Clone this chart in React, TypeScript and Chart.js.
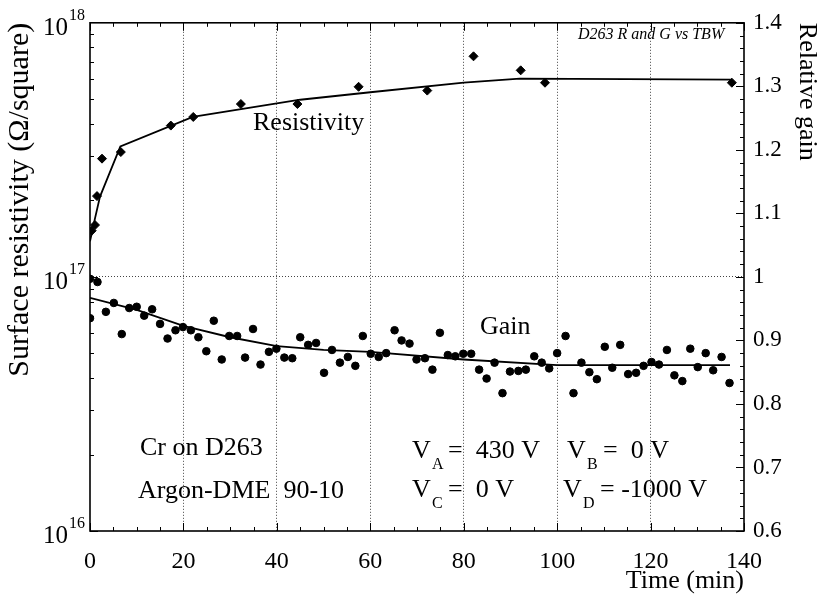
import React, { useEffect, useRef } from 'react';
import { Chart, registerables } from 'chart.js';

Chart.register(...registerables);

const SERIF = '"Liberation Serif", "Times New Roman", serif';

// Resistivity measurements (time in min, Ω/square)
const resTime = [0.36, 1.07, 1.5, 2.57, 6.6, 17.3, 22.1, 32.3, 44.4, 57.5, 72.2, 82.1, 92.2, 97.4, 137.4];
const resValues = [1.52e17, 1.6e17, 2.08e17, 2.92e17, 3.1e17, 3.94e17, 4.26e17, 4.79e17, 4.79e17, 5.6e17, 5.41e17, 7.38e17, 6.5e17, 5.81e17, 5.81e17];

// Resistivity fit curve
const resFitTime = [0, 1.07, 2.14, 6.5, 22, 45, 60, 80, 92, 137.4];
const resFitValues = [1.38e17, 1.7e17, 2.07e17, 3.26e17, 4.26e17, 4.98e17, 5.33e17, 5.81e17, 6.03e17, 5.97e17];

// Relative gain measurements
const gainTime = [0, 1.6, 0, 3.4, 5.1, 6.8, 8.4, 10.0, 11.6, 13.3, 15.0, 16.6, 18.3, 19.9, 21.6, 23.2, 24.9, 26.5, 28.2, 29.8, 31.5, 33.2, 34.9, 36.5, 38.3, 39.9, 41.6, 43.3, 45.0, 46.7, 48.4, 50.1, 51.8, 53.5, 55.2, 56.8, 58.4, 60.1, 61.8, 63.4, 65.2, 66.7, 68.4, 69.9, 71.7, 73.3, 74.9, 76.6, 78.2, 79.9, 81.6, 83.3, 84.9, 86.6, 88.3, 89.9, 91.7, 93.3, 95.1, 96.7, 98.3, 100.0, 101.8, 103.5, 105.2, 106.9, 108.5, 110.2, 111.8, 113.5, 115.2, 116.9, 118.5, 120.2, 121.8, 123.5, 125.1, 126.8, 128.5, 130.1, 131.8, 133.4, 135.2, 136.9];
const gainValues = [0.997, 0.992, 0.935, 0.945, 0.959, 0.910, 0.951, 0.953, 0.939, 0.949, 0.926, 0.903, 0.916, 0.921, 0.916, 0.905, 0.883, 0.931, 0.870, 0.907, 0.907, 0.873, 0.918, 0.862, 0.882, 0.887, 0.873, 0.872, 0.905, 0.893, 0.896, 0.849, 0.885, 0.865, 0.874, 0.860, 0.907, 0.879, 0.874, 0.880, 0.916, 0.900, 0.895, 0.870, 0.872, 0.854, 0.912, 0.877, 0.875, 0.879, 0.879, 0.854, 0.840, 0.865, 0.817, 0.851, 0.852, 0.854, 0.875, 0.865, 0.856, 0.880, 0.907, 0.817, 0.865, 0.850, 0.839, 0.890, 0.857, 0.893, 0.847, 0.849, 0.860, 0.866, 0.862, 0.885, 0.845, 0.836, 0.887, 0.858, 0.880, 0.853, 0.874, 0.833];

// Gain fit curve
const gainFitTime = [0, 10, 20, 30, 40, 50, 60, 80, 100, 137];
const gainFitValues = [0.967, 0.948, 0.923, 0.905, 0.891, 0.885, 0.882, 0.870, 0.861, 0.861];

// Axis ticks
const xTicks = [0, 20, 40, 60, 80, 100, 120, 140];
const leftDecades = [1e16, 1e17, 1e18];
const leftExponents = ['16', '17', '18'];
const rightTicks = [0.6, 0.7, 0.8, 0.9, 1.0, 1.1, 1.2, 1.3, 1.4];

const pairs = (xs: number[], ys: number[]) => xs.map((x, i) => ({ x, y: ys[i] }));

const decorPlugin = {
  id: 'decor',
  afterDraw(chart: any) {
    const { ctx, chartArea: a, scales } = chart;
    const sx = scales.x, yL = scales.yL, yR = scales.yR;
    ctx.save();
    ctx.strokeStyle = '#000';
    ctx.lineWidth = 1;
    ctx.beginPath();
    // x ticks inward (bottom and top)
    for (let t = 0; t <= 140; t += 5) {
      const px = Math.round(sx.getPixelForValue(t)) + 0.5;
      const len = t % 20 === 0 ? 8 : 4;
      ctx.moveTo(px, a.bottom); ctx.lineTo(px, a.bottom - len);
      ctx.moveTo(px, a.top); ctx.lineTo(px, a.top + len);
    }
    // left log ticks
    for (let d = 16; d <= 17; d++) {
      for (let k = 1; k <= 9; k++) {
        const py = Math.round(yL.getPixelForValue(k * Math.pow(10, d))) + 0.5;
        const len = k === 1 ? 8 : 4;
        ctx.moveTo(a.left, py); ctx.lineTo(a.left + len, py);
      }
    }
    // right linear ticks
    for (let i = 0; i <= 40; i++) {
      const v = 0.6 + i * 0.02;
      const py = Math.round(yR.getPixelForValue(v)) + 0.5;
      const len = i % 5 === 0 ? 8 : 4;
      ctx.moveTo(a.right, py); ctx.lineTo(a.right - len, py);
    }
    ctx.stroke();
    // frame
    ctx.lineWidth = 1.6;
    ctx.strokeRect(a.left, a.top, a.right - a.left, a.bottom - a.top);

    ctx.fillStyle = '#000';
    // left axis labels 10^n
    leftDecades.forEach((v, i) => {
      const py = yL.getPixelForValue(v);
      ctx.font = `16px ${SERIF}`;
      ctx.textAlign = 'right';
      ctx.textBaseline = 'alphabetic';
      const supW = ctx.measureText(leftExponents[i]).width;
      ctx.fillText(leftExponents[i], 85, py - 3);
      ctx.font = `25px ${SERIF}`;
      ctx.fillText('10', 85 - supW - 1, py + 12);
    });

    // annotations
    ctx.textAlign = 'left';
    ctx.textBaseline = 'alphabetic';
    ctx.font = `26px ${SERIF}`;
    ctx.fillText('Resistivity', 253, 130);
    ctx.fillText('Gain', 480, 334);
    ctx.fillText('Cr on D263', 140, 455);
    ctx.fillText('Argon-DME  90-10', 138, 498);

    const vLabel = (x: number, base: number, sub: string, rest: string, restX: number) => {
      ctx.font = `26px ${SERIF}`;
      ctx.fillText('V', x, base);
      ctx.font = `16px ${SERIF}`;
      ctx.fillText(sub, x + 20, base + 11);
      ctx.font = `26px ${SERIF}`;
      ctx.fillText(rest, restX, base);
    };
    vLabel(412, 458, 'A', '=  430 V', 448);
    vLabel(567, 458, 'B', '=  0 V', 603);
    vLabel(412, 497, 'C', '=  0 V', 448);
    vLabel(563, 497, 'D', '= -1000 V', 600);

    ctx.font = `italic 16px ${SERIF}`;
    ctx.fillText('D263 R and G vs TBW', 578, 39);
    ctx.restore();
  },
};

export default function App() {
  const canvasRef = useRef<HTMLCanvasElement | null>(null);

  useEffect(() => {
    document.body.style.margin = '0';
    const canvas = canvasRef.current;
    if (!canvas) return;
    const chart = new Chart(canvas, {
      type: 'scatter',
      data: {
        datasets: [
          {
            label: 'Resistivity',
            data: pairs(resTime, resValues),
            yAxisID: 'yL',
            pointStyle: 'rectRot',
            pointRadius: 4.5,
            backgroundColor: '#000',
            borderColor: '#000',
            showLine: false,
          },
          {
            label: 'Resistivity fit',
            data: pairs(resFitTime, resFitValues),
            yAxisID: 'yL',
            pointRadius: 0,
            showLine: true,
            borderColor: '#000',
            borderWidth: 1.8,
          },
          {
            label: 'Gain',
            data: pairs(gainTime, gainValues),
            yAxisID: 'yR',
            pointStyle: 'circle',
            pointRadius: 3.8,
            backgroundColor: '#000',
            borderColor: '#000',
            showLine: false,
          },
          {
            label: 'Gain fit',
            data: pairs(gainFitTime, gainFitValues),
            yAxisID: 'yR',
            pointRadius: 0,
            showLine: true,
            borderColor: '#000',
            borderWidth: 1.8,
          },
        ],
      },
      options: {
        responsive: false,
        animation: false,
        devicePixelRatio: 1,
        layout: { padding: { top: 15, left: 0, right: 0, bottom: 0 } },
        plugins: { legend: { display: false }, tooltip: { enabled: false } },
        scales: {
          x: {
            type: 'linear',
            min: 0,
            max: 140,
            afterBuildTicks: (s: any) => { s.ticks = xTicks.map((v) => ({ value: v })); },
            afterFit: (s: any) => { s.height = 69; },
            ticks: { color: '#000', font: { family: SERIF, size: 24 }, padding: 16, maxRotation: 0, autoSkip: false },
            grid: {
              drawTicks: false,
              color: (c: any) => (c.tick && (c.tick.value === 0 || c.tick.value === 140) ? 'rgba(0,0,0,0)' : '#444'),
              lineWidth: 1,
            },
            border: { display: false, dash: [1, 2] },
            title: { display: true, text: 'Time (min)', align: 'end', color: '#000', font: { family: SERIF, size: 26 }, padding: { top: 3, bottom: 3 } },
          },
          yL: {
            type: 'logarithmic',
            position: 'left',
            min: 1e16,
            max: 1e18,
            afterBuildTicks: (s: any) => { s.ticks = leftDecades.map((v) => ({ value: v })); },
            afterFit: (s: any) => { s.width = 90; },
            ticks: { display: true, autoSkip: false, callback: () => '' },
            grid: {
              drawTicks: false,
              color: (c: any) => (c.tick && c.tick.value === 1e17 ? '#444' : 'rgba(0,0,0,0)'),
              lineWidth: 1,
            },
            border: { display: false, dash: [1, 2] },
            title: { display: true, text: 'Surface resistivity (Ω/square)', align: 'end', color: '#000', font: { family: SERIF, size: 30 }, padding: { top: 2, bottom: 2 } },
          },
          yR: {
            type: 'linear',
            position: 'right',
            min: 0.6,
            max: 1.4,
            afterBuildTicks: (s: any) => { s.ticks = rightTicks.map((v) => ({ value: v })); },
            afterFit: (s: any) => { s.width = 79; },
            ticks: {
              color: '#000',
              font: { family: SERIF, size: 23 },
              padding: 9,
              autoSkip: false,
              callback: (v: any) => String(Number(Number(v).toFixed(1))),
            },
            grid: { display: false, drawTicks: false },
            border: { display: false },
            title: { display: true, text: 'Relative gain', align: 'end', color: '#000', font: { family: SERIF, size: 26 }, padding: { top: 1, bottom: 1 } },
          },
        },
      },
      plugins: [decorPlugin],
    } as any);
    return () => chart.destroy();
  }, []);

  return (
    <div style={{ width: 823, height: 600 }}>
      <canvas ref={canvasRef} width={823} height={600} style={{ display: 'block' }} />
    </div>
  );
}
